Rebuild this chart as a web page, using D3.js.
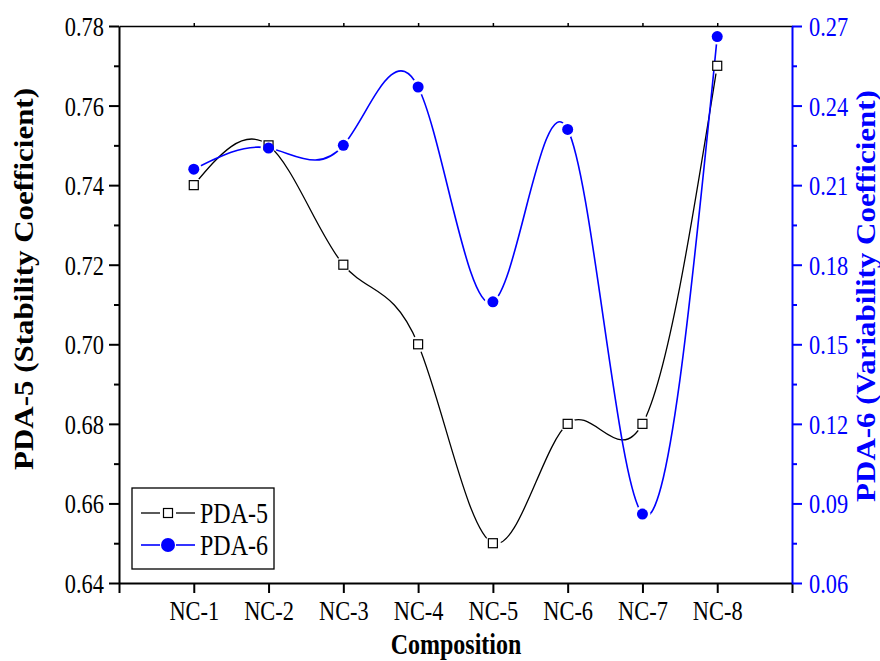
<!DOCTYPE html>
<html>
<head>
<meta charset="utf-8">
<script src="https://cdn.jsdelivr.net/npm/d3@7"></script>
<style>
  body { margin: 0; background: #fff; }
  svg { display: block; font-family: "Liberation Serif", "Times New Roman", serif; }
</style>
</head>
<body>
<div id="chart"></div>
<script>
// categories and values
const categories = ["NC-1", "NC-2", "NC-3", "NC-4", "NC-5", "NC-6", "NC-7", "NC-8"];
const pda5 = [0.74, 0.75, 0.72, 0.70, 0.65, 0.68, 0.68, 0.77];
const pda6 = [0.216, 0.224, 0.225, 0.247, 0.166, 0.231, 0.086, 0.266];
const leftTicks = [0.64, 0.66, 0.68, 0.70, 0.72, 0.74, 0.76, 0.78];
const leftMinor = [0.65, 0.67, 0.69, 0.71, 0.73, 0.75, 0.77];
const rightTicks = [0.06, 0.09, 0.12, 0.15, 0.18, 0.21, 0.24, 0.27];
const rightMinor = [0.075, 0.105, 0.135, 0.165, 0.195, 0.225, 0.255];

const W = 880, H = 661;
const margin = { top: 26, right: 88, bottom: 78, left: 119 };
const width = W - margin.left - margin.right,
  height = H - margin.top - margin.bottom;
const BLUE = "#0000ff";
const SX = 0.8; // horizontal squeeze of the text in the picture

const svg = d3.select("#chart").append("svg")
  .attr("width", W).attr("height", H);
const g = svg.append("g")
  .attr("transform", "translate(" + margin.left + "," + margin.top + ")");

// scales
const x = d3.scaleLinear().domain([0, categories.length + 1]).range([0, width]);
const yL = d3.scaleLinear().domain([0.64, 0.78]).range([height, 0]);
const yR = d3.scaleLinear().domain([0.06, 0.27]).range([height, 0]);

function styleAxis(sel, color, w) {
  sel.select(".domain").attr("stroke", color).attr("stroke-width", w);
  sel.selectAll(".tick line").attr("stroke", color).attr("stroke-width", w);
}

// top axis (small ticks only)
const topAxis = g.append("g")
  .call(d3.axisTop(x).tickValues(d3.range(1, categories.length + 1)).tickSize(3).tickSizeOuter(0).tickFormat(""));
styleAxis(topAxis, "#000", 1.5);

// bottom axis
const xAxis = g.append("g")
  .attr("transform", "translate(0," + height + ")")
  .call(d3.axisBottom(x).tickValues(d3.range(0, categories.length + 2)).tickSize(10).tickSizeOuter(0)
    .tickFormat(i => (i >= 1 && i <= categories.length) ? categories[i - 1] : ""));
styleAxis(xAxis, "#000", 2);
xAxis.selectAll(".tick text")
  .attr("y", 0).attr("dy", 0)
  .attr("transform", "translate(0,37) scale(" + SX + ",1)")
  .attr("fill", "#000").attr("font-size", 28).attr("font-family", "Liberation Serif");

// left axis
const yAxisL = g.append("g")
  .call(d3.axisLeft(yL).tickValues(leftTicks).tickSize(10).tickSizeOuter(0).tickFormat(d3.format(".2f")));
styleAxis(yAxisL, "#000", 2);
yAxisL.selectAll(".tick text")
  .attr("x", 0).attr("dy", "0.34em")
  .attr("transform", "translate(-15,0) scale(" + SX + ",1)")
  .attr("fill", "#000").attr("font-size", 28).attr("font-family", "Liberation Serif");
const yMinorL = g.append("g")
  .call(d3.axisLeft(yL).tickValues(leftMinor).tickSize(5).tickFormat(""));
yMinorL.select(".domain").remove();
yMinorL.selectAll(".tick line").attr("stroke", "#000").attr("stroke-width", 2);

// right axis
const yAxisR = g.append("g")
  .attr("transform", "translate(" + width + ",0)")
  .call(d3.axisRight(yR).tickValues(rightTicks).tickSize(10).tickSizeOuter(0).tickFormat(d3.format(".2f")));
styleAxis(yAxisR, BLUE, 2);
yAxisR.selectAll(".tick text")
  .attr("x", 0).attr("dy", "0.34em")
  .attr("transform", "translate(17,0) scale(" + SX + ",1)")
  .attr("fill", BLUE).attr("font-size", 28).attr("font-family", "Liberation Serif");
const yMinorR = g.append("g")
  .attr("transform", "translate(" + width + ",0)")
  .call(d3.axisRight(yR).tickValues(rightMinor).tickSize(5).tickFormat(""));
yMinorR.select(".domain").remove();
yMinorR.selectAll(".tick line").attr("stroke", BLUE).attr("stroke-width", 2);

// axis titles
svg.append("text")
  .attr("transform", "translate(33,279) rotate(-90) scale(1,0.85)")
  .attr("text-anchor", "middle")
  .attr("font-weight", "bold").attr("font-size", 31)
  .text("PDA-5 (Stability Coefficient)");
svg.append("text")
  .attr("transform", "translate(875,296) rotate(-90) scale(1,0.85)")
  .attr("text-anchor", "middle")
  .attr("font-weight", "bold").attr("font-size", 31).attr("fill", BLUE)
  .text("PDA-6 (Variability Coefficient)");
svg.append("text")
  .attr("transform", "translate(456,654) scale(" + SX + ",1)")
  .attr("text-anchor", "middle")
  .attr("font-weight", "bold").attr("font-size", 30)
  .text("Composition");

// series: curve lines with gaps around the markers (masks)
const defs = svg.append("defs");
const series = [
  { name: "PDA-5", values: pda5, y: yL, color: "#000", lw: 1.3, id: "m5" },
  { name: "PDA-6", values: pda6, y: yR, color: BLUE, lw: 1.6, id: "m6" }
];

series.forEach(s => {
  const mask = defs.append("mask").attr("id", s.id).attr("maskUnits", "userSpaceOnUse")
    .attr("x", -margin.left).attr("y", -margin.top).attr("width", W).attr("height", H);
  mask.append("rect").attr("x", -margin.left).attr("y", -margin.top)
    .attr("width", W).attr("height", H).attr("fill", "#fff");
  mask.selectAll("circle").data(s.values).enter().append("circle")
    .attr("cx", (d, i) => x(i + 1)).attr("cy", d => s.y(d)).attr("r", 8).attr("fill", "#000");

  const line = d3.line()
    .x((d, i) => x(i + 1))
    .y(d => s.y(d))
    .curve(d3.curveNatural);

  g.append("path")
    .datum(s.values)
    .attr("d", line)
    .attr("fill", "none")
    .attr("stroke", s.color)
    .attr("stroke-width", s.lw)
    .attr("mask", "url(#" + s.id + ")");
});

// markers
g.selectAll("rect.pda5").data(pda5).enter().append("rect")
  .attr("class", "pda5")
  .attr("x", (d, i) => x(i + 1) - 4.5).attr("y", d => yL(d) - 4.5)
  .attr("width", 9).attr("height", 9)
  .attr("fill", "#fff").attr("stroke", "#000").attr("stroke-width", 1.2);
g.selectAll("circle.pda6").data(pda6).enter().append("circle")
  .attr("class", "pda6")
  .attr("cx", (d, i) => x(i + 1)).attr("cy", d => yR(d))
  .attr("r", 5.5).attr("fill", BLUE);

// legend
const legend = svg.append("g");
legend.append("rect")
  .attr("x", 132).attr("y", 488).attr("width", 142).attr("height", 81)
  .attr("fill", "#fff").attr("stroke", "#000").attr("stroke-width", 1.3);
series.forEach((s, i) => {
  const cy = 513 + i * 32;
  legend.append("line").attr("x1", 141).attr("x2", 160).attr("y1", cy).attr("y2", cy)
    .attr("stroke", s.color).attr("stroke-width", s.lw);
  legend.append("line").attr("x1", 176).attr("x2", 195).attr("y1", cy).attr("y2", cy)
    .attr("stroke", s.color).attr("stroke-width", s.lw);
  if (i === 0) {
    legend.append("rect").attr("x", 168 - 4.5).attr("y", cy - 4.5).attr("width", 9).attr("height", 9)
      .attr("fill", "#fff").attr("stroke", "#000").attr("stroke-width", 1.2);
  } else {
    legend.append("circle").attr("cx", 168).attr("cy", cy).attr("r", 7).attr("fill", BLUE);
  }
  legend.append("text")
    .attr("transform", "translate(200," + (cy + 10) + ") scale(" + SX + ",1)")
    .attr("font-size", 30)
    .text(s.name);
});
</script>
</body>
</html>
